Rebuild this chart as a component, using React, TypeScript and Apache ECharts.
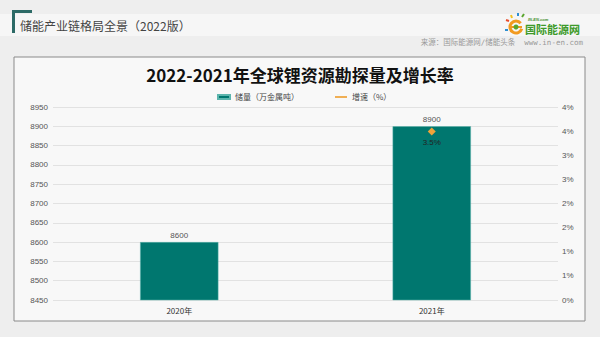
import React, { useEffect, useRef } from "react";
import * as echarts from "echarts";

const categories = ["2020年", "2021年"];
const reserves = [8600, 8900];
const growth: (number | null)[] = [null, 3.49];
const leftMin = 8450;
const leftMax = 8950;
const leftInterval = 50;
const rightMin = 0;
const rightMax = 4;
const rightInterval = 0.5;

const headerTitle = "储能产业链格局全景（2022版）";
const sourceText = "来源：国际能源网/储能头条  www.in-en.com";
const chartTitle = "2022-2021年全球锂资源勘探量及增长率";
const seriesNames = ["储量（万金属吨）", "增速（%）"];

export default function App() {
  const ref = useRef<HTMLDivElement>(null);
  useEffect(() => {
    if (!ref.current) return;
    const chart = echarts.init(ref.current, null, { renderer: "svg" });
    const cjk = '"Noto Sans CJK SC", "Noto Sans", sans-serif';
    const num = 'Arial, "Liberation Sans", sans-serif';
    chart.setOption({
      animation: false,
      backgroundColor: "#eeeeee",
      title: {
        text: chartTitle,
        left: "center",
        top: 61,
        textStyle: { fontFamily: cjk, fontSize: 17, fontWeight: "bold", color: "#111" },
      },
      legend: {
        left: 212,
        top: 88,
        itemWidth: 12,
        itemHeight: 4,
        itemGap: 36,
        textStyle: { fontFamily: cjk, fontSize: 8, color: "#444" },
        data: [
          { name: seriesNames[0], icon: "rect" },
          { name: seriesNames[1], icon: "path://M0,0L14,0L14,2L0,2Z", itemStyle: { color: "#EFA33A" } },
        ],
      },
      graphic: [
        { type: "rect", shape: { x: 0, y: 14, width: 600, height: 22 }, style: { fill: "#f6f6f6" }, z: -10 },
        { type: "rect", shape: { x: 12, y: 10, width: 20, height: 3 }, style: { fill: "#2c6a66" } },
        { type: "rect", shape: { x: 12, y: 10, width: 3, height: 23 }, style: { fill: "#2c6a66" } },
        {
          type: "text",
          x: 20,
          y: 25,
          style: {
            text: headerTitle,
            fontFamily: cjk,
            fontSize: 12,
            fill: "#444",
            verticalAlign: "middle",
          },
        },
        {
          type: "rect",
          shape: { x: 14, y: 57, width: 571, height: 264 },
          style: { fill: "#f8f8f8", stroke: "#8a8a8a", lineWidth: 1 },
          z: -5,
        },
        {
          type: "text",
          x: 583,
          y: 42,
          style: {
            text: sourceText,
            fontFamily: '"DejaVu Sans Mono", "Noto Sans CJK SC", monospace',
            fontSize: 7.5,
            fill: "#999",
            align: "right",
            verticalAlign: "middle",
          },
        },
        // logo approximation
        { type: "arc", shape: { cx: 516, cy: 27, r: 6, startAngle: 0.3, endAngle: 5.6 }, style: { stroke: "#f29a1f", lineWidth: 3, fill: "none" } },
        { type: "line", shape: { x1: 510, y1: 27, x2: 522, y2: 27 }, style: { stroke: "#f29a1f", lineWidth: 2 } },
        { type: "circle", shape: { cx: 516, cy: 27, r: 2.5 }, style: { fill: "#5aa52e" } },
        { type: "line", shape: { x1: 506, y1: 20, x2: 509, y2: 21 }, style: { stroke: "#e84c2b", lineWidth: 2 } },
        { type: "line", shape: { x1: 511, y1: 15, x2: 512, y2: 18 }, style: { stroke: "#f2c21f", lineWidth: 2 } },
        { type: "line", shape: { x1: 518, y1: 13, x2: 518, y2: 16 }, style: { stroke: "#2e8fd1", lineWidth: 2 } },
        { type: "line", shape: { x1: 524, y1: 14, x2: 522, y2: 17 }, style: { stroke: "#5aa52e", lineWidth: 2 } },
        { type: "line", shape: { x1: 505, y1: 30, x2: 508, y2: 30 }, style: { stroke: "#2e8fd1", lineWidth: 2 } },
        {
          type: "text",
          x: 528,
          y: 19,
          style: { text: "IN-EN.com", fontFamily: num, fontSize: 4, fontStyle: "italic", fontWeight: "bold", fill: "#3d8f2a", verticalAlign: "middle" },
        },
        {
          type: "text",
          x: 525,
          y: 29,
          style: { text: "国际能源网", fontFamily: cjk, fontSize: 11, fontWeight: "bold", fill: "#3d9a2a", verticalAlign: "middle" },
        },
      ],
      grid: { left: 53, right: 42, top: 107, bottom: 37 },
      xAxis: {
        type: "category",
        data: categories,
        axisLine: { show: false },
        axisTick: { show: false },
        axisLabel: { fontFamily: cjk, fontSize: 8, color: "#333", margin: 6 },
      },
      yAxis: [
        {
          type: "value",
          min: leftMin,
          max: leftMax,
          interval: leftInterval,
          axisLine: { show: false },
          axisTick: { show: false },
          axisLabel: { fontFamily: num, fontSize: 8, color: "#555", margin: 5, formatter: (v: number) => String(v) },
          splitLine: { lineStyle: { color: "#e2e2e2", width: 1 } },
        },
        {
          type: "value",
          min: rightMin,
          max: rightMax,
          interval: rightInterval,
          axisLine: { show: false },
          axisTick: { show: false },
          splitLine: { show: false },
          axisLabel: {
            fontFamily: num,
            fontSize: 8,
            color: "#555",
            margin: 4,
            formatter: (v: number) => Math.round(v) + "%",
          },
        },
      ],
      series: [
        {
          name: seriesNames[0],
          type: "bar",
          data: reserves,
          barWidth: "31%",
          itemStyle: { color: "#00776F", borderColor: "#5cb5ad", borderWidth: 0.5 },
          label: { show: true, position: "top", distance: 3, fontFamily: num, fontSize: 8, color: "#555" },
        },
        {
          name: seriesNames[1],
          type: "line",
          yAxisIndex: 1,
          data: growth,
          symbol: "diamond",
          symbolSize: 8,
          lineStyle: { color: "#EFA33A", width: 2 },
          itemStyle: { color: "#EFA33A" },
          label: {
            show: true,
            position: "bottom",
            distance: 3,
            fontFamily: num,
            fontSize: 8,
            color: "#222",
            formatter: (p: any) => (p.value == null ? "" : p.value.toFixed(1) + "%"),
          },
          z: 5,
        },
      ],
    });
    return () => chart.dispose();
  }, []);
  return <div ref={ref} style={{ position: "fixed", left: 0, top: 0, width: 600, height: 337 }} />;
}
